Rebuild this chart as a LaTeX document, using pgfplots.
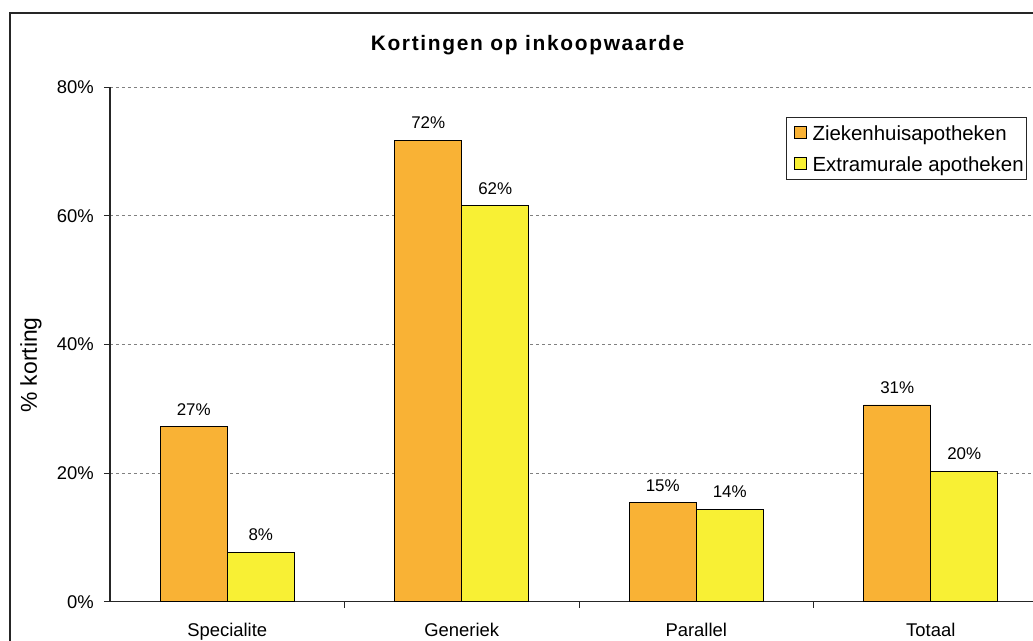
\documentclass[border=0pt]{standalone}
\usepackage{pgfplots}
\pgfplotsset{compat=1.18}
\usepackage{fontspec}
\setmainfont{Liberation Sans}
\usetikzlibrary{calc}
\definecolor{orangeC}{RGB}{249,178,53}
\definecolor{yellowC}{RGB}{248,240,52}
\begin{document}
\begin{tikzpicture}
\begin{axis}[
  scale only axis, width=938bp, height=514.4bp,
  xmin=-0.5, xmax=3.5, ymin=0, ymax=80,
  axis lines*=left,
  axis line style={black!85, line width=1.2bp},
  /pgf/number format/assume math mode=true,
  ybar, bar width=67bp,
  xtick={0,1,2,3},
  xticklabels={Specialite,Generiek,Parallel,Totaal},
  xtick style={draw=none},
  extra x ticks={0.5,1.5,2.5},
  extra x tick labels={},
  extra x tick style={xtick style={draw=black!85, line width=1bp}},
  ytick={0,20,40,60,80},
  yticklabel={\pgfmathprintnumber{\tick}\%},
  ytick style={draw=black!85, line width=1bp},
  tick align=outside, major tick length=6bp,
  ymajorgrids,
  grid style={gray, line width=1bp, dash pattern=on 3bp off 3bp},
  xticklabel style={font=\fontsize{18.5}{20}\selectfont, inner sep=0pt, anchor=north, yshift=-15.5bp},
  yticklabel style={font=\fontsize{18.5}{20}\selectfont, inner sep=0pt, anchor=east, xshift=-10bp},
  title={\addfontfeature{LetterSpace=8}Kortingen op inkoopwaarde},
  title style={at={(0.4451,1.0595)}, anchor=base, font=\fontsize{21}{24}\selectfont\bfseries, inner sep=0pt},
  ylabel={\% korting},
  every axis y label/.style={at={(-0.0842,0.4601)}, rotate=90, anchor=center, font=\fontsize{23}{26}\selectfont, inner sep=0pt},
  nodes near coords={\pgfmathprintnumber[fixed,precision=0]{\pgfplotspointmeta}\%},
  every node near coord/.append style={font=\fontsize{17}{20}\selectfont, anchor=south, inner sep=0pt, yshift=11bp, text depth=0pt, black},
  legend image code/.code={\path[draw=none,fill=none] (-5bp,0bp) -- (18bp,0bp); \draw[#1, draw=black, line width=0.8bp] (0bp,-6bp) rectangle (12bp,6bp);},
  legend cell align=left,
  legend style={at={(0.7207,0.9429)}, anchor=north west, draw=black!85, line width=1bp,
    font=\fontsize{20.5}{24}\selectfont, inner xsep=3bp, inner ysep=5.9bp, row sep=11.5bp, column sep=0bp,
    nodes={inner sep=0pt, text height=17bp, text depth=2.5bp}},
]
\addplot[fill=orangeC, draw=black, line width=0.8bp, bar shift=-33.5bp] coordinates {(0,27.2) (1,71.8) (2,15.4) (3,30.6)};
\addplot[fill=yellowC, draw=black, line width=0.8bp, bar shift=33.5bp] coordinates {(0,7.7) (1,61.6) (2,14.4) (3,20.3)};
\legend{Ziekenhuisapotheken, Extramurale apotheken}
\coordinate (O) at (rel axis cs:0,0);
\end{axis}
\pgfresetboundingbox
\path[use as bounding box] ($(O)+(-110bp,-39.3bp)$) rectangle ($(O)+(923bp,601.7bp)$);
\draw[black!85, line width=1.5bp] ($(O)+(-100bp,-60bp)$) rectangle ($(O)+(950bp,588.6bp)$);
\end{tikzpicture}
\end{document}
